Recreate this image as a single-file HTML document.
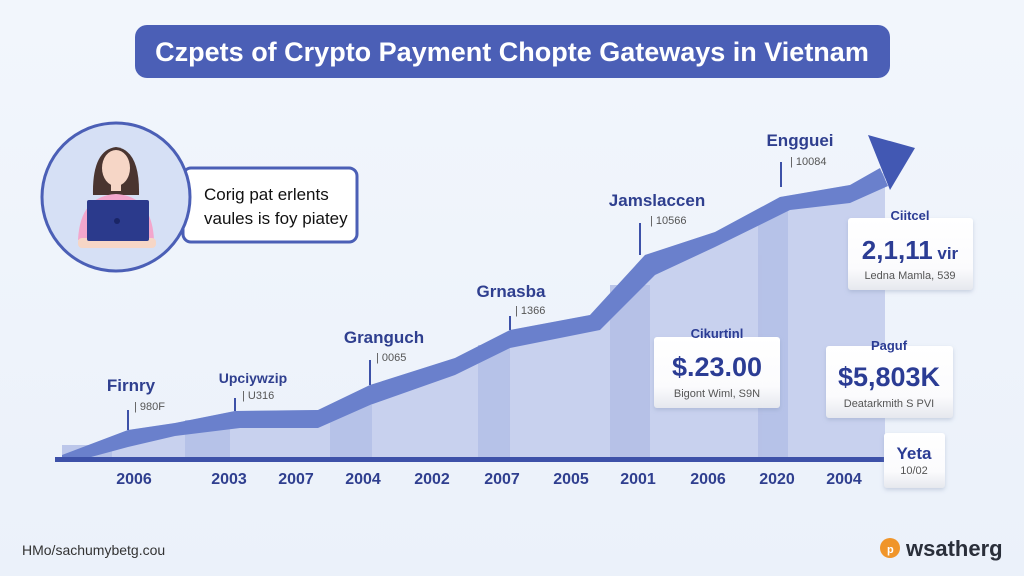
<!DOCTYPE html>
<html><head><meta charset="utf-8"><style>
html,body{margin:0;padding:0;background:#eef3fb;}
svg{display:block;font-family:"Liberation Sans",sans-serif;}
</style></head><body>
<svg width="1024" height="576" viewBox="0 0 1024 576">
<defs>
<linearGradient id="bg" x1="0" y1="0" x2="0" y2="1"><stop offset="0" stop-color="#f2f6fc"/><stop offset="1" stop-color="#ebf1fa"/></linearGradient>
<linearGradient id="card" x1="0" y1="0" x2="0" y2="1"><stop offset="0" stop-color="#ffffff"/><stop offset="0.7" stop-color="#fbfbfd"/><stop offset="1" stop-color="#e6e8ee"/></linearGradient>
<filter id="sh" x="-10%" y="-10%" width="130%" height="140%"><feDropShadow dx="0" dy="2" stdDeviation="2" flood-color="#8090b0" flood-opacity="0.35"/></filter>
</defs>
<rect width="1024" height="576" fill="url(#bg)"/>
<!-- title -->
<rect x="135" y="25" width="755" height="53" rx="12" fill="#4b5fb6"/>
<text x="512" y="61" text-anchor="middle" font-size="27" font-weight="bold" fill="#fff">Czpets of Crypto Payment Chopte Gateways in Vietnam</text>
<!-- avatar -->
<rect x="183" y="168" width="174" height="74" rx="8" fill="#fff" stroke="#4b5fb6" stroke-width="3"/>
<text x="204" y="200" font-size="17" fill="#111">Corig pat erlents</text>
<text x="204" y="224" font-size="17" fill="#111">vaules is foy piatey</text>
<circle cx="116" cy="197" r="74" fill="#d6e0f5" stroke="#4b5fb6" stroke-width="3"/>
<path d="M93 195 Q92 150 116 147 Q140 150 139 195 Z" fill="#4a3530"/>
<ellipse cx="116" cy="168" rx="14" ry="18" fill="#f6d6c6"/>
<rect x="111" y="183" width="10" height="8" fill="#f6d6c6"/>
<path d="M78 240 Q80 196 116 194 Q152 196 154 240 Z" fill="#f3a6cc"/>
<rect x="78" y="238" width="78" height="10" rx="4" fill="#f6d6c6"/>
<rect x="87" y="200" width="62" height="41" rx="2" fill="#2b3a8c"/>
<circle cx="117" cy="221" r="3" fill="#1a2566"/>
<!-- area -->
<path d="M62 460 L62 455 L128 430 L175 423 L235 411 L318 410 L370 385 L455 358 L510 330 L590 315 L645 255 L715 232 L780 197 L850 185 L885 172 L885 460 Z" fill="#c8d1ee"/>
<g fill="#b3bfe6" opacity="0.85">
<rect x="62" y="445" width="50" height="15"/>
<rect x="185" y="420" width="45" height="40"/>
<rect x="330" y="405" width="42" height="55"/>
<rect x="478" y="345" width="32" height="115"/>
<rect x="610" y="285" width="40" height="175"/>
<rect x="758" y="210" width="30" height="250"/>
</g>
<path d="M62 455 L128 430 L175 423 L235 411 L318 410 L370 385 L455 358 L510 330 L590 315 L645 255 L715 232 L780 197 L850 185 L880 168 L888 186 L850 203 L790 210 L715 247 L655 275 L600 330 L510 348 L455 375 L370 405 L318 428 L240 428 L175 436 L128 447 L80 460 L62 460 Z" fill="#6a80cc"/>
<polygon points="868,135 915,148 890,190" fill="#4258b3"/>
<rect x="55" y="457" width="830" height="5" fill="#3d51a8"/>
<!-- markers -->
<g stroke="#3d51a8" stroke-width="2">
<line x1="128" y1="430" x2="128" y2="410"/><line x1="235" y1="411" x2="235" y2="398"/>
<line x1="370" y1="385" x2="370" y2="360"/><line x1="510" y1="330" x2="510" y2="316"/>
<line x1="640" y1="255" x2="640" y2="223"/><line x1="781" y1="187" x2="781" y2="162"/>
</g>
<g font-weight="bold" fill="#2f3f8f" text-anchor="middle" font-size="17">
<text x="131" y="391">Firnry</text><text x="253" y="383" font-size="14">Upciywzip</text>
<text x="384" y="343">Granguch</text><text x="511" y="297">Grnasba</text>
<text x="657" y="206">Jamslaccen</text><text x="800" y="146">Engguei</text>
</g>
<g font-size="11" fill="#555">
<text x="134" y="410">| 980F</text><text x="242" y="399">| U316</text><text x="376" y="361">| 0065</text>
<text x="515" y="314">| 1366</text><text x="650" y="224">| 10566</text><text x="790" y="165">| 10084</text>
</g>
<!-- years -->
<g font-size="16" font-weight="bold" fill="#2f3f8f" text-anchor="middle">
<text x="134" y="484">2006</text><text x="229" y="484">2003</text><text x="296" y="484">2007</text>
<text x="363" y="484">2004</text><text x="432" y="484">2002</text><text x="502" y="484">2007</text>
<text x="571" y="484">2005</text><text x="638" y="484">2001</text><text x="708" y="484">2006</text>
<text x="777" y="484">2020</text><text x="844" y="484">2004</text>
</g>
<!-- cards -->
<g filter="url(#sh)">
<rect x="654" y="337" width="126" height="71" rx="3" fill="url(#card)"/>
<rect x="848" y="218" width="125" height="72" rx="3" fill="url(#card)"/>
<rect x="826" y="346" width="127" height="72" rx="3" fill="url(#card)"/>
<rect x="884" y="433" width="61" height="55" rx="3" fill="url(#card)"/>
</g>
<g font-weight="bold" fill="#2b3c94" text-anchor="middle">
<text x="717" y="338" font-size="13">Cikurtinl</text>
<text x="717" y="376" font-size="27">$.23.00</text>
<text x="910" y="220" font-size="13">Ciitcel</text>
<text x="910" y="259" font-size="26">2,1,11<tspan font-size="17"> vir</tspan></text>
<text x="889" y="350" font-size="13">Paguf</text>
<text x="889" y="386" font-size="27">$5,803K</text>
<text x="914" y="459" font-size="17">Yeta</text>
</g>
<g font-size="11" fill="#555" text-anchor="middle">
<text x="717" y="397">Bigont Wiml, S9N</text>
<text x="910" y="279">Ledna Mamla, 539</text>
<text x="889" y="407">Deatarkmith S PVI</text>
<text x="914" y="474">10/02</text>
</g>
<!-- footer -->
<text x="22" y="555" font-size="14" fill="#333">HMo/sachumybetg.cou</text>
<circle cx="890" cy="548" r="10" fill="#f0952a"/>
<text x="887" y="553" font-size="11" font-weight="bold" fill="#fff">p</text>
<text x="906" y="556" font-size="22" font-weight="bold" fill="#2a2f3a">wsatherg</text>
</svg>
</body></html>
